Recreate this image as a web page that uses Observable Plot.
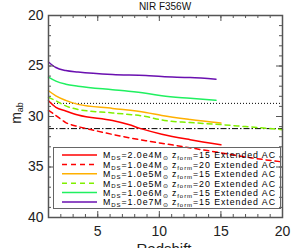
<!DOCTYPE html>
<html>
<head>
<meta charset="utf-8">
<script src="https://cdn.jsdelivr.net/npm/d3@7"></script>
<script src="https://cdn.jsdelivr.net/npm/@observablehq/plot@0.6"></script>
<style>
  html, body { margin: 0; padding: 0; background: #fff; }
  #wrap { position: relative; width: 297px; height: 248px; overflow: hidden; font-family: "Liberation Sans", Arial, sans-serif; }
  #overlay { position: absolute; left: 0; top: 0; pointer-events: none; }
</style>
</head>
<body>
<div id="wrap"></div>
<script>
// ---- data ----
const seriesNames = ["2.0e4_15", "1.0e4_20", "1.0e5_15", "1.0e5_20", "1.0e6_15", "1.0e7_15"];
const seriesMass = ["2.0e4", "1.0e4", "1.0e5", "1.0e5", "1.0e6", "1.0e7"];
const seriesZform = ["15", "20", "15", "20", "15", "15"];

const z_m2e4_15 = [1, 1.6, 2.4, 3.4, 6.2, 7.5, 8.5, 10.2, 12.5, 15];
const m_m2e4_15 = [28.45, 29.1, 29.45, 29.85, 30.4, 30.8, 31.2, 31.75, 32.3, 32.8];

const z_m1e4_20 = [1, 1.6, 2.4, 3.4, 4.8, 6.5, 8.9, 11, 13, 15, 17.5, 20];
const m_m1e4_20 = [29.4, 29.9, 30.6, 31.0, 31.4, 31.85, 32.4, 32.8, 33.2, 33.6, 34.1, 34.5];

const z_m1e5_15 = [1, 1.6, 2.4, 3.4, 6.2, 8.9, 10.2, 12.5, 15];
const m_m1e5_15 = [27.45, 27.95, 28.4, 28.8, 29.2, 29.6, 29.9, 30.3, 30.65];

const z_m1e5_20 = [1, 1.6, 2.4, 3.4, 6.2, 8.9, 10.2, 12.5, 15, 17, 20];
const m_m1e5_20 = [28.1, 28.45, 28.95, 29.3, 29.65, 30.0, 30.35, 30.6, 30.8, 31.0, 31.3];

const z_m1e6_15 = [1, 1.6, 2.4, 3.4, 6.2, 7.5, 8.9, 10.2, 12.5, 14.6];
const m_m1e6_15 = [26.1, 26.5, 26.8, 27.0, 27.35, 27.5, 27.7, 27.95, 28.2, 28.4];

const z_m1e7_15 = [1, 1.6, 2.4, 3.4, 6.2, 8.9, 10.2, 12.5, 14.6];
const m_m1e7_15 = [24.6, 25.15, 25.45, 25.6, 25.85, 25.95, 26.05, 26.15, 26.3];

const refDotted = [28.7];
const refDashDot = [31.2];

const xMajorTicks = [5, 10, 15, 20];
const xMinorTicks = d3.range(1, 21);
const yMajorTicks = [20, 25, 30, 35, 40];
const yMinorTicks = d3.range(20, 41);

// ---- styles ----
const colors = ["#ff0000", "#ff0000", "#ffb000", "#80f000", "#20f060", "#6a10b0"];
const dashes = [null, "5,4", null, "5,4", null, null];

const zs = [z_m2e4_15, z_m1e4_20, z_m1e5_15, z_m1e5_20, z_m1e6_15, z_m1e7_15];
const ms = [m_m2e4_15, m_m1e4_20, m_m1e5_15, m_m1e5_20, m_m1e6_15, m_m1e7_15];

const W = 297, H = 248, mL = 48, mR = 15, mT = 15, mB = 31;
const innerH = H - mT - mB, innerW = W - mL - mR;
const axisColor = "#555";

const lineMarks = seriesNames.map((name, i) => {
  const data = zs[i].map((z, j) => ({z, m: ms[i][j]}));
  return Plot.line(data, {x: "z", y: "m", stroke: colors[i], strokeWidth: 1.5,
    strokeDasharray: dashes[i] || undefined, curve: "monotone-x"});
});

const plot = Plot.plot({
  width: W, height: H,
  marginLeft: mL, marginRight: mR, marginTop: mT, marginBottom: mB,
  style: {background: "transparent", fontFamily: "Liberation Sans, Arial, sans-serif"},
  x: {domain: [1, 20]},
  y: {domain: [20, 40], reverse: true},
  marks: [
    Plot.ruleY(refDotted, {stroke: "#000", strokeWidth: 1, strokeDasharray: "1,2"}),
    Plot.ruleY(refDashDot, {stroke: "#000", strokeWidth: 1, strokeDasharray: "6,2,1.5,2"}),
    ...lineMarks,
    // inward ticks
    Plot.tickX(xMinorTicks, {x: d => d, insetTop: innerH - 3, stroke: axisColor}),
    Plot.tickX(xMinorTicks, {x: d => d, insetBottom: innerH - 3, stroke: axisColor}),
    Plot.tickX(xMajorTicks, {x: d => d, insetTop: innerH - 6, stroke: axisColor}),
    Plot.tickX(xMajorTicks, {x: d => d, insetBottom: innerH - 6, stroke: axisColor}),
    Plot.tickY(yMinorTicks, {y: d => d, insetRight: innerW - 3, stroke: axisColor}),
    Plot.tickY(yMinorTicks, {y: d => d, insetLeft: innerW - 3, stroke: axisColor}),
    Plot.tickY(yMajorTicks, {y: d => d, insetRight: innerW - 6, stroke: axisColor}),
    Plot.tickY(yMajorTicks, {y: d => d, insetLeft: innerW - 6, stroke: axisColor}),
    Plot.axisX({ticks: xMajorTicks, tickSize: 0, tickPadding: 9, fontSize: 14, label: null, color: "#222"}),
    Plot.axisY({ticks: yMajorTicks, tickSize: 0, tickPadding: 5, fontSize: 14, label: null, color: "#222"}),
    Plot.frame({stroke: axisColor, strokeWidth: 1.5})
  ]
});

const wrap = document.getElementById("wrap");
wrap.appendChild(plot);

// ---- overlay: title, axis labels, legend ----
const ns = "http://www.w3.org/2000/svg";
const ov = document.createElementNS(ns, "svg");
ov.setAttribute("id", "overlay");
ov.setAttribute("width", W); ov.setAttribute("height", H);
wrap.appendChild(ov);

function addText(parent, x, y, html, attrs) {
  const t = document.createElementNS(ns, "text");
  t.setAttribute("x", x); t.setAttribute("y", y);
  for (const k in attrs) t.setAttribute(k, attrs[k]);
  t.innerHTML = html;
  parent.appendChild(t);
  return t;
}

addText(ov, 165, 10, "NIR F356W", {"text-anchor": "middle", "font-size": 10, "font-family": "Liberation Sans, Arial", fill: "#111"});
addText(ov, 164, 254, "Redshift", {"text-anchor": "middle", "font-size": 15, "font-family": "Liberation Sans, Arial", fill: "#222"});
addText(ov, 0, 0, 'm<tspan font-size="9" dy="2">ab</tspan>', {"text-anchor": "middle", "font-size": 14, "font-family": "Liberation Sans, Arial", fill: "#222", transform: "translate(21,113) rotate(-90)"});

// legend
const lg = document.createElementNS(ns, "g");
ov.appendChild(lg);
const box = document.createElementNS(ns, "rect");
box.setAttribute("x", 53.5); box.setAttribute("y", 147.5);
box.setAttribute("width", 227); box.setAttribute("height", 61);
box.setAttribute("fill", "none"); box.setAttribute("stroke", "#666"); box.setAttribute("stroke-width", 1);
lg.appendChild(box);
seriesNames.forEach((name, i) => {
  const cy = 155 + i * 9.4;
  const ln = document.createElementNS(ns, "line");
  ln.setAttribute("x1", 62); ln.setAttribute("x2", 97);
  ln.setAttribute("y1", cy); ln.setAttribute("y2", cy);
  ln.setAttribute("stroke", colors[i]); ln.setAttribute("stroke-width", 1.5);
  if (dashes[i]) ln.setAttribute("stroke-dasharray", dashes[i]);
  lg.appendChild(ln);
  const sub = (s) => `<tspan font-size="6" dy="1.8">${s}</tspan><tspan dy="-1.8">`;
  addText(lg, 103, cy + 3.3,
    `M${sub("DS")}=${seriesMass[i]}M</tspan>${sub("⊙")} z</tspan>${sub("form")}=${seriesZform[i]} Extended AC</tspan>`,
    {"font-size": 8.8, "font-family": "Liberation Sans, Arial, sans-serif", fill: "#000",
     "textLength": 172, "lengthAdjust": "spacing"});
});
</script>
</body>
</html>
